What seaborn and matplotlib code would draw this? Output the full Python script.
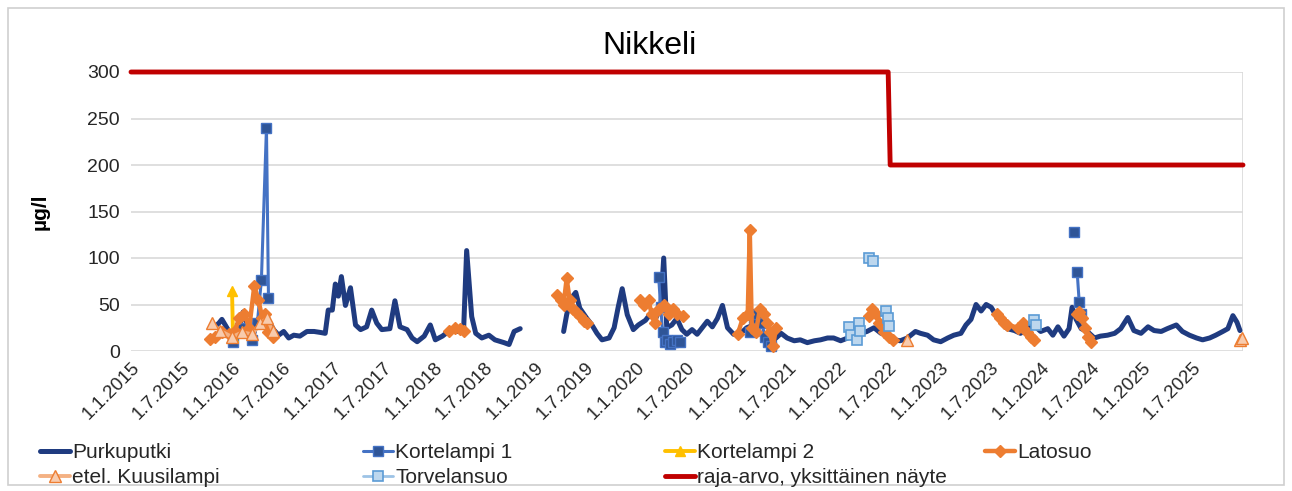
import numpy as np
import pandas as pd
import matplotlib
matplotlib.use("Agg")
import matplotlib.pyplot as plt
import seaborn as sns
from matplotlib.lines import Line2D
from matplotlib.patches import Rectangle

sns.set_theme(style="white")
plt.rcParams["font.family"] = ["Liberation Sans", "DejaVu Sans"]

# ---------------- data (decimal years, µg/l); NaN = gap in the series ----------------
purkuputki_year = [
    2015.83, 2015.87, 2015.90, 2015.96, 2016.01, 2016.06, 2016.11, 2016.16, 2016.20, 2016.24,
    2016.28, 2016.33, 2016.36, 2016.41, 2016.46, 2016.51, 2016.56, 2016.61, 2016.67, 2016.74,
    2016.81, 2016.87, 2016.92, 2016.95, 2016.99, 2017.02, 2017.05, 2017.08, 2017.12, 2017.17,
    2017.22, 2017.27, 2017.33, 2017.38, 2017.43, 2017.48, 2017.56, 2017.61, 2017.66, 2017.73,
    2017.78, 2017.83, 2017.90, 2017.96, 2018.01, 2018.08, 2018.14, 2018.24, 2018.29, 2018.32,
    2018.37, 2018.41, 2018.47, 2018.54, 2018.60, 2018.69, 2018.74, 2018.79, 2018.85, 2019.00,
    2019.28, 2019.31, 2019.35, 2019.40, 2019.44, 2019.51, 2019.56, 2019.61, 2019.66, 2019.73,
    2019.78, 2019.82, 2019.86, 2019.91, 2019.97, 2020.02, 2020.09, 2020.14, 2020.19, 2020.24,
    2020.27, 2020.30, 2020.35, 2020.40, 2020.45, 2020.50, 2020.55, 2020.60, 2020.65, 2020.70,
    2020.75, 2020.80, 2020.85, 2020.90, 2020.96, 2021.03, 2021.09, 2021.16, 2021.21, 2021.26,
    2021.31, 2021.36, 2021.43, 2021.49, 2021.56, 2021.62, 2021.69, 2021.76, 2021.82, 2021.89,
    2021.95, 2022.02, 2022.09, 2022.15, 2022.22, 2022.28, 2022.35, 2022.42, 2022.48, 2022.55,
    2022.61, 2022.68, 2022.76, 2022.81, 2022.88, 2022.94, 2023.01, 2023.08, 2023.14, 2023.21,
    2023.26, 2023.31, 2023.36, 2023.41, 2023.46, 2023.51, 2023.56, 2023.61, 2023.67, 2023.74,
    2023.80, 2023.87, 2023.93, 2024.00, 2024.07, 2024.12, 2024.17, 2024.23, 2024.28, 2024.31,
    2024.35, 2024.40, 2024.46, 2024.53, 2024.59, 2024.66, 2024.73, 2024.79, 2024.86, 2024.92,
    2024.99, 2025.06, 2025.12, 2025.19, 2025.25, 2025.34, 2025.40, 2025.47, 2025.54, 2025.60,
    2025.67, 2025.73, 2025.80, 2025.85, 2025.90, 2025.94, 2025.97,
]
purkuputki_val = [
    26, 30, 34, 23, 9, 19, 42, 26, 12, 30,
    38, 42, 33, 23, 17, 21, 14, 17, 16, 21,
    21, 20, 19, 44, 44, 72, 59, 80, 49, 68,
    28, 23, 26, 44, 30, 23, 24, 54, 26, 23,
    14, 10, 16, 28, 12, 16, 21, 21, 23, 108,
    37, 19, 14, 17, 12, 9, 7, 21, 24, np.nan,
    21, 39, 56, 63, 46, 35, 28, 19, 12, 14,
    25, 47, 67, 39, 23, 28, 33, 40, 35, 46,
    100, 25, 28, 35, 23, 18, 23, 18, 25, 32,
    26, 35, 49, 25, 18, 19, 25, 28, 21, 14,
    9, 12, 19, 14, 11, 12, 9, 11, 12, 14,
    14, 11, 14, 18, 19, 21, 25, 19, 18, 12,
    11, 14, 21, 19, 17, 12, 10, 14, 17, 19,
    28, 34, 50, 43, 50, 47, 38, 31, 24, 22,
    19, 24, 28, 21, 24, 17, 26, 16, 24, 47,
    34, 24, 21, 14, 16, 17, 19, 24, 36, 22,
    19, 26, 22, 21, 24, 28, 21, 17, 14, 12,
    14, 17, 21, 24, 38, 31, 22,
]

kortelampi1_year = [2016.01, 2016.08, 2016.20, 2016.25, 2016.29, 2016.34, 2016.36, 2017.0,
                    2020.22, 2020.24, 2020.26, 2020.28, 2020.30, 2020.33, 2020.36, 2020.40, 2020.43, 2020.5,
                    2021.12, 2021.16, 2021.20, 2021.24, 2021.27, 2021.30, 2021.33, 2021.5,
                    2024.33, 2024.34, 2024.36, 2024.38, 2024.40]
kortelampi1_val = [10, 25, 12, 30, 76, 240, 57, np.nan,
                   80, 47, 20, 10, 12, 8, 10, 12, 10, np.nan,
                   20, 35, 40, 30, 15, 10, 5, np.nan,
                   128, np.nan, 85, 53, 40]

kortelampi2_year = [2016.00, 2016.01]
kortelampi2_val = [65, 15]

latosuo_year = [2015.78, 2015.83, 2015.90, 2015.97, 2016.03, 2016.07, 2016.12, 2016.17, 2016.22,
                2016.26, 2016.30, 2016.33, 2016.36, 2016.40, 2017.0,
                2018.15, 2018.20, 2018.25, 2018.29, 2018.5,
                2019.21, 2019.25, 2019.28, 2019.31, 2019.34, 2019.37, 2019.40, 2019.44, 2019.48,
                2019.51, 2019.8,
                2020.04, 2020.08, 2020.12, 2020.15, 2020.18, 2020.22, 2020.27, 2020.32, 2020.36,
                2020.40, 2020.46, 2020.8,
                2021.00, 2021.05, 2021.10, 2021.12, 2021.14, 2021.18, 2021.22, 2021.26, 2021.29,
                2021.32, 2021.35, 2021.38, 2021.8,
                2022.30, 2022.33, 2022.37, 2022.40, 2022.45, 2022.50, 2022.54, 2023.0,
                2023.57, 2023.60, 2023.64, 2023.67, 2023.78, 2023.82, 2023.86, 2023.90, 2023.93,
                2024.1,
                2024.36, 2024.38, 2024.41, 2024.44, 2024.47, 2024.50]
latosuo_val = [13, 15, 20, 18, 22, 35, 40, 25, 70,
               55, 35, 40, 20, 15, np.nan,
               22, 25, 24, 22, np.nan,
               60, 55, 50, 78, 55, 45, 42, 38, 32,
               30, np.nan,
               55, 50, 55, 40, 30, 45, 50, 40, 45,
               40, 38, np.nan,
               18, 35, 40, 130, 25, 20, 45, 40, 30,
               20, 5, 25, np.nan,
               38, 45, 40, 30, 20, 15, 12, np.nan,
               40, 35, 30, 28, 25, 30, 20, 15, 12,
               np.nan,
               40, 42, 35, 25, 15, 10]

kuusilampi_year = [2015.80, 2015.88, 2016.00, 2016.10, 2016.20, 2016.28, 2016.35, 2016.40, 2017.0,
                   2022.68, 2023.0, 2025.97, 2025.99]
kuusilampi_val = [30, 22, 15, 20, 18, 30, 35, 22, np.nan,
                  12, np.nan, 12, 14]

torvelansuo_year = [2022.10, 2022.12, 2022.18, 2022.20, 2022.21, 2022.25,
                    2022.30, 2022.34, 2022.40,
                    2022.47, 2022.49, 2022.50, 2023.0,
                    2023.93, 2023.95]
torvelansuo_val = [26, 17, 12, 30, 22, np.nan,
                   100, 97, np.nan,
                   43, 36, 27, np.nan,
                   33, 28]

raja_year = [2015.0, 2022.49, 2022.51, 2026.0]
raja_val = [300, 300, 200, 200]

tick_years = [2015.0 + 0.5 * i for i in range(22)]
tick_labels = ["1.1.2015", "1.7.2015", "1.1.2016", "1.7.2016", "1.1.2017", "1.7.2017",
               "1.1.2018", "1.7.2018", "1.1.2019", "1.7.2019", "1.1.2020", "1.7.2020",
               "1.1.2021", "1.7.2021", "1.1.2022", "1.7.2022", "1.1.2023", "1.7.2023",
               "1.1.2024", "1.7.2024", "1.1.2025", "1.7.2025"]


def to_date(years):
    out = []
    for y in years:
        yi = int(np.floor(y))
        frac = y - yi
        if abs(frac - 0.5) < 1e-9:
            out.append(pd.Timestamp(year=yi, month=7, day=1))
            continue
        start = pd.Timestamp(year=yi, month=1, day=1)
        end = pd.Timestamp(year=yi + 1, month=1, day=1)
        out.append(start + (end - start) * frac)
    return pd.to_datetime(out)


def frame(years, vals):
    v = np.array(vals, float)
    seg = np.cumsum(np.isnan(v))
    df = pd.DataFrame({"date": to_date(years), "value": v, "seg": seg})
    return df.dropna()


fig = plt.figure(figsize=(12.92, 4.91), dpi=100)
ax = fig.add_axes([131 / 1292, 1 - 351 / 491, (1243 - 131) / 1292, (351 - 72) / 491])

series = [
    ("Purkuputki", purkuputki_year, purkuputki_val,
     dict(color="#1F3B80", linewidth=3.6, marker=None)),
    ("Kortelampi 1", kortelampi1_year, kortelampi1_val,
     dict(color="#4472C4", linewidth=2.2, marker="s", markersize=6.5,
          markerfacecolor="#2F5597", markeredgecolor="#4472C4", markeredgewidth=1)),
    ("Kortelampi 2", kortelampi2_year, kortelampi2_val,
     dict(color="#FFC000", linewidth=2.8, marker="^", markersize=7,
          markerfacecolor="#FFC000", markeredgecolor="#FFC000", markeredgewidth=1)),
    ("Latosuo", latosuo_year, latosuo_val,
     dict(color="#ED7D31", linewidth=3.2, marker="D", markersize=6.5,
          markerfacecolor="#ED7D31", markeredgecolor="#ED7D31", markeredgewidth=1)),
    ("etel. Kuusilampi", kuusilampi_year, kuusilampi_val,
     dict(color="#F4B183", linewidth=2.8, marker="^", markersize=8,
          markerfacecolor="#F8CBAD", markeredgecolor="#ED7D31", markeredgewidth=1)),
    ("Torvelansuo", torvelansuo_year, torvelansuo_val,
     dict(color="#9DC3E6", linewidth=2.0, marker="s", markersize=6.5,
          markerfacecolor="#BDD7EE", markeredgecolor="#5B9BD5", markeredgewidth=1.2)),
    ("raja-arvo, yksittäinen näyte", raja_year, raja_val,
     dict(color="#C00000", linewidth=3.5, marker=None)),
]

handles = {}
for name, yrs, vals, style in series:
    df = frame(yrs, vals)
    kws = {k: v for k, v in style.items() if v is not None}
    sns.lineplot(data=df, x="date", y="value", units="seg", estimator=None, sort=False,
                 ax=ax, legend=False, clip_on=False, **kws)
    hk = dict(style)
    if hk.get("marker") is None:
        hk.pop("marker")
    handles[name] = Line2D([], [], **hk)

ax.set_xlabel("")
ax.set_ylabel("")
ax.set_ylim(0, 300)
ax.set_xlim(pd.Timestamp("2015-01-01"), pd.Timestamp("2026-01-01"))
ax.set_yticks(np.arange(0, 301, 50))
ax.tick_params(axis="y", labelsize=14, labelcolor="#262626", length=0, pad=8)

ax.set_xticks(to_date(tick_years))
ax.set_xticklabels(tick_labels, rotation=45, ha="right", va="top",
                   rotation_mode="anchor", fontsize=13.5, color="#262626")
ax.tick_params(axis="x", length=0, pad=6)
ax.set_xticks(to_date([2015.0 + i for i in range(12)]), minor=True)
ax.tick_params(axis="x", which="minor", length=0)

ax.grid(False)
ax.grid(True, axis="y", which="major", color="#d9d9d9", linewidth=1.2)
ax.grid(True, axis="x", which="minor", color="#d9d9d9", linewidth=1.2)
ax.set_axisbelow(True)
for s in ax.spines.values():
    s.set_visible(False)

fig.text(0.503, 1 - 46 / 491, "Nikkeli", ha="center", va="center", fontsize=23, color="#000000")
fig.text(40 / 1292, 1 - 212 / 491, "µg/l", rotation=90, ha="center", va="center",
         fontsize=15, fontweight="bold", color="#000000")

columns = [
    (40 / 1292, ["Purkuputki", "etel. Kuusilampi"]),
    (363 / 1292, ["Kortelampi 1", "Torvelansuo"]),
    (665 / 1292, ["Kortelampi 2", "raja-arvo, yksittäinen näyte"]),
    (985 / 1292, ["Latosuo"]),
]
for x0, names in columns:
    leg = fig.legend([handles[n] for n in names], names, loc="upper left",
                     bbox_to_anchor=(x0, 1 - 443 / 491), frameon=False, fontsize=15,
                     handlelength=1.45, handletextpad=0.1, labelspacing=0.3,
                     borderpad=0, borderaxespad=0)

fig.patches.append(Rectangle((8 / 1292, 6 / 491), 1 - 16 / 1292, 1 - 14 / 491,
                             transform=fig.transFigure, fill=False,
                             edgecolor="#cfcfcf", linewidth=1.2))

fig.savefig("out.png", dpi=100, facecolor="white")
